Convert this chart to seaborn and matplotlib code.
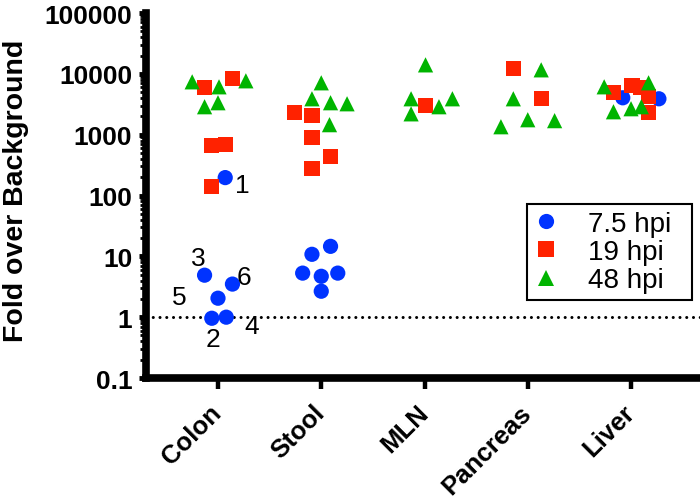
import numpy as np
import pandas as pd
import seaborn as sns
import matplotlib.pyplot as plt
from matplotlib.ticker import LogLocator, NullFormatter

sns.set_theme(style = "ticks")
plt.rcParams['font.family'] = ['Liberation Sans', 'DejaVu Sans']
plt.rcParams['text.color'] = 'black'
plt.rcParams['axes.labelcolor'] = 'black'
plt.rcParams['xtick.color'] = 'black'
plt.rcParams['ytick.color'] = 'black'

tissues = ["Colon", "Stool", "MLN", "Pancreas", "Liver"]
times = ["7.5 hpi", "19 hpi", "48 hpi"]

# 7.5 hpi (first six are the numbered colon samples 1..6)
t7_tissue = ["Colon"] * 6 + ["Stool"] * 6 + ["Liver"] * 2
t7_value = [197, 0.96, 4.9, 1.0, 2.05, 3.5,
            14.6, 10.8, 5.3, 4.7, 5.3, 2.67,
            4040, 3890]
t7_jitter = [0.07, -0.06, -0.13, 0.08, 0.0, 0.14,
             0.09, -0.09, -0.18, 0.0, 0.16, 0.0,
             -0.08, 0.27]
colon_ids = ["1", "2", "3", "4", "5", "6"]

# 19 hpi
t19_tissue = ["Colon"] * 5 + ["Stool"] * 5 + ["MLN"] + ["Pancreas"] * 2 + ["Liver"] * 5
t19_value = [5890, 8280, 660, 686, 140,
             2300, 2050, 893, 436, 280,
             2990,
             12080, 3890,
             4890, 6360, 5890, 4200, 2300]
t19_jitter = [-0.13, 0.14, -0.06, 0.07, -0.06,
              -0.26, -0.09, -0.09, 0.09, -0.09,
              0.01,
              -0.14, 0.13,
              -0.17, 0.01, 0.09, 0.17, 0.17]

# 48 hpi
t48_tissue = ["Colon"] * 5 + ["Stool"] * 5 + ["MLN"] * 5 + ["Pancreas"] * 5 + ["Liver"] * 5
t48_value = [7390, 6120, 7680, 2880, 3350,
             7120, 3890, 3350, 3220, 1460,
             14050, 3890, 2880, 3890, 2200,
             11640, 3890, 1760, 1700, 1350,
             6120, 7120, 2380, 2670, 2880]
t48_jitter = [-0.25, 0.01, 0.27, -0.13, 0.0,
              0.0, -0.09, 0.09, 0.25, 0.08,
              0.01, -0.13, 0.14, 0.27, -0.13,
              0.13, -0.14, 0.0, 0.26, -0.26,
              -0.26, 0.17, -0.17, 0.0, 0.10]

ytick_values = [0.1, 1, 10, 100, 1000, 10000, 100000]
ytick_labels = ["0.1", "1", "10", "100", "1000", "10000", "100000"]

colors = {"7.5 hpi": "#0033ff", "19 hpi": "#ff2200", "48 hpi": "#00b400"}
markers = {"7.5 hpi": "o", "19 hpi": "s", "48 hpi": "^"}

frames = []
for t, tis, val, jit in [(times[0], t7_tissue, t7_value, t7_jitter),
                         (times[1], t19_tissue, t19_value, t19_jitter),
                         (times[2], t48_tissue, t48_value, t48_jitter)]:
    d = pd.DataFrame({"tissue": tis, "value": val, "jitter": jit})
    d["time"] = t
    frames.append(d)
df = pd.concat(frames, ignore_index = True)
df["x"] = df["tissue"].map({k: i for i, k in enumerate(tissues)}) + df["jitter"]

fig = plt.figure(figsize = (7, 5.02), dpi = 100)
ax = fig.add_axes([0.2086, 0.245, 0.7914, 0.7271])

ax.axhline(1, color = "black", lw = 2.2, ls = (0, (0.01, 2.2)), dash_capstyle = "round", zorder = 1)

sns.scatterplot(data = df, x = "x", y = "value", hue = "time", style = "time",
                hue_order = times, style_order = times, palette = colors,
                markers = markers, s = 120, linewidth = 0, ax = ax, zorder = 3)

ax.set_yscale("log")
ax.set_ylim(0.1, 100000)
ax.set_xlim(-0.697, 4.668)

# numbered colon samples
label_offsets = [(17, -7), (1, -21), (-6, 17), (25, -9), (-39, 1), (11, 7)]
colon7 = df[(df["time"] == times[0]) & (df["tissue"] == "Colon")]
for (xv, yv), lab, off in zip(colon7[["x", "value"]].values, colon_ids, label_offsets):
    ax.annotate(lab, (xv, yv), xytext = off, textcoords = "offset pixels",
                ha = "center", va = "center", fontsize = 19, color = "black")

ax.set_xticks(range(len(tissues)))
ax.set_xticklabels(tissues, rotation = 45, ha = "right", va = "center",
                   rotation_mode = "anchor", fontsize = 18.5, fontweight = "bold")
ax.set_yticks(ytick_values)
ax.set_yticklabels(ytick_labels, fontsize = 19, fontweight = "bold")
ax.yaxis.set_minor_locator(LogLocator(base = 10, subs = np.arange(2, 10)))
ax.yaxis.set_minor_formatter(NullFormatter())

ax.tick_params(axis = "x", length = 8, width = 3.2, pad = 14, color = "black")
ax.tick_params(axis = "y", which = "major", length = 5, width = 3.5, pad = 5, color = "black")
ax.tick_params(axis = "y", which = "minor", length = 4.5, width = 2, color = "black")

for side in ["top", "right"]:
    ax.spines[side].set_visible(False)
for side in ["left", "bottom"]:
    ax.spines[side].set_linewidth(5.5)
    ax.spines[side].set_color("black")

ax.set_xlabel("")
ax.set_ylabel("Fold over Background", fontsize = 20.5, fontweight = "bold")
ax.yaxis.set_label_coords(-0.211, 0.515)

handles, labels = ax.get_legend_handles_labels()
leg = ax.legend(handles, labels, loc = "upper left", bbox_to_anchor = (0.6877, 0.0, 0.2979, 0.4767),
                mode = "expand", borderaxespad = 0, fontsize = 20, frameon = True, fancybox = False,
                edgecolor = "black", framealpha = 1, borderpad = 0.25, handlelength = 0.9,
                handletextpad = 1.05, labelspacing = 0.08)
leg.get_frame().set_linewidth(1.5)

fig.savefig("out.png", dpi = 100)
